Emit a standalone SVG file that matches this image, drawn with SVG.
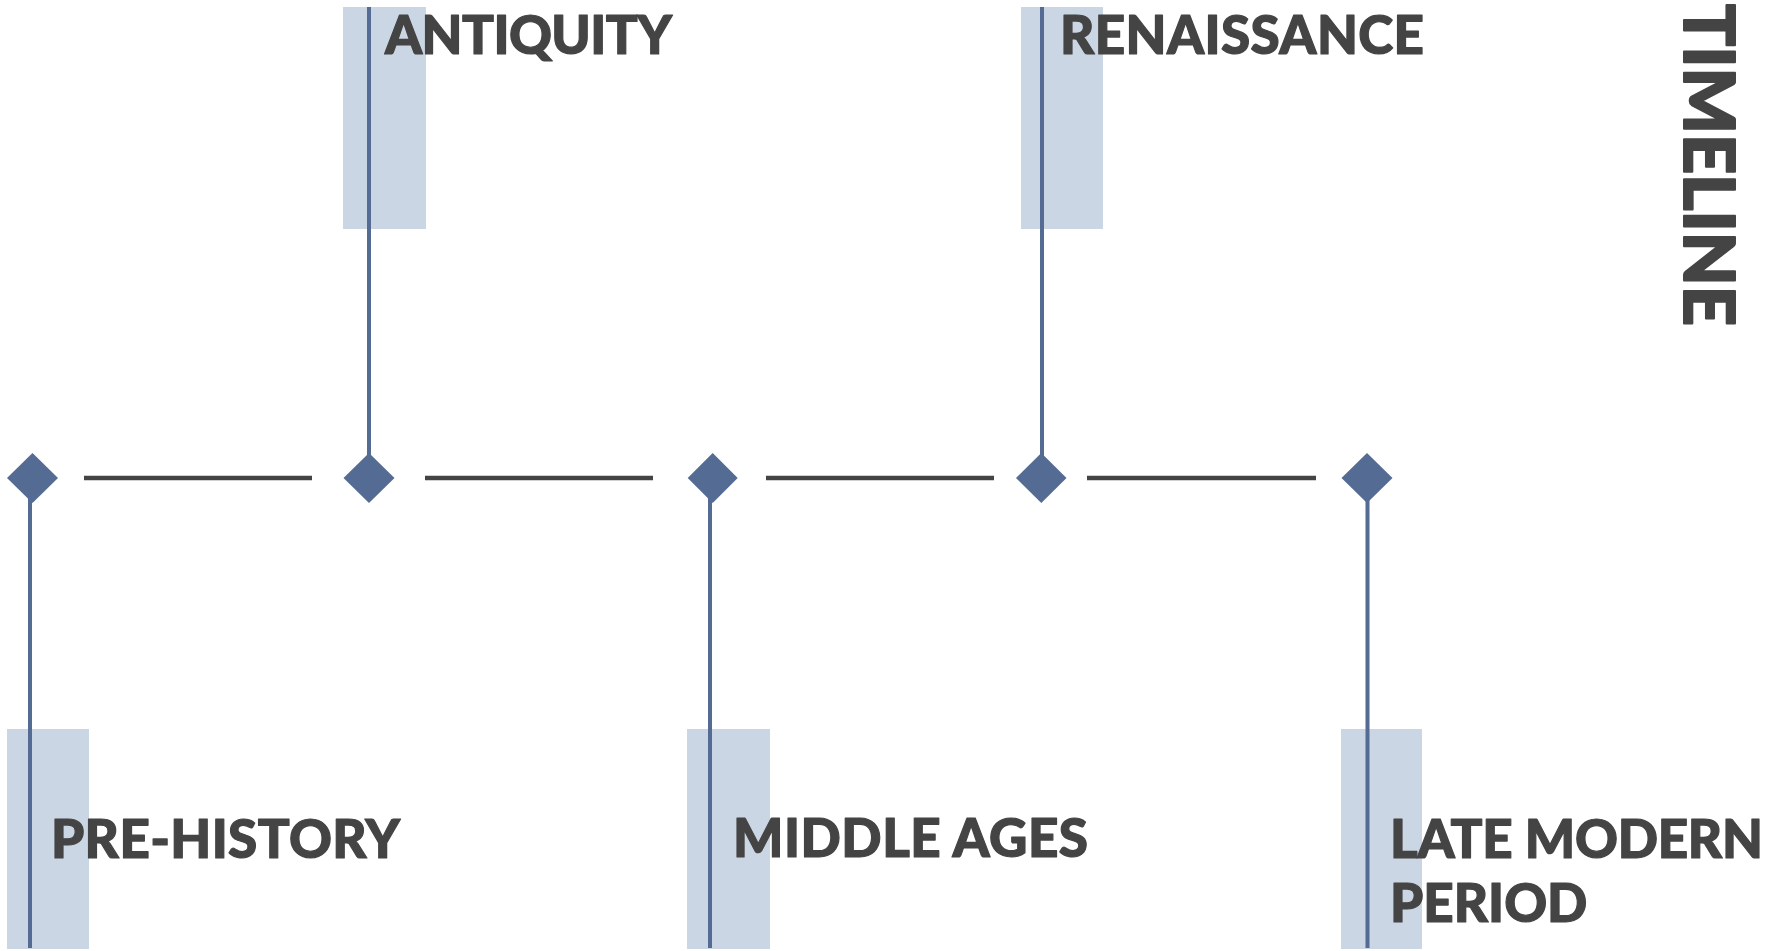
<svg xmlns="http://www.w3.org/2000/svg" width="1791" height="951" viewBox="0 0 1791 951">
<style>
.bg{fill:#cbd6e4}
.stem{stroke:#546b94;stroke-width:4;fill:none}
.link{stroke:#444444;stroke-width:4.5;fill:none}
.dia{fill:#546b94}
.lbl{font-family:Lato,"Liberation Sans",sans-serif;font-weight:900;font-size:53px;fill:#444444;stroke:#444444;stroke-width:1.2;stroke-linejoin:round}
.title{font-family:Lato,"Liberation Sans",sans-serif;font-weight:900;font-size:70px;fill:#444444;stroke:#444444;stroke-width:2;stroke-linejoin:round}
</style>
<rect width="1791" height="951" fill="#ffffff"/>
<g id="connectors">
<line class="link" x1="84" y1="478" x2="312" y2="478"/>
<line class="link" x1="425" y1="478" x2="653" y2="478"/>
<line class="link" x1="766" y1="478" x2="994" y2="478"/>
<line class="link" x1="1087" y1="478" x2="1316" y2="478"/>
</g>
<g id="prehistory">
<rect class="bg" x="7" y="729" width="82" height="220"/>
<line class="stem" x1="30" y1="490" x2="30" y2="948"/>
<polygon class="dia" points="32.5,453 58,478 32.5,503 7,478"/>
<text class="lbl" x="51" y="858" textLength="349">PRE-HISTORY</text>
</g>
<g id="antiquity">
<rect class="bg" x="343" y="7" width="83" height="222"/>
<line class="stem" x1="369" y1="7" x2="369" y2="466"/>
<polygon class="dia" points="369,453 394.5,478 369,503 343.5,478"/>
<text class="lbl" x="385" y="54" textLength="287">ANTIQUITY</text>
</g>
<g id="middleages">
<rect class="bg" x="687" y="729" width="83" height="220"/>
<line class="stem" x1="710" y1="490" x2="710" y2="948"/>
<polygon class="dia" points="712.7,453 737.7,478 712.7,503 687.7,478"/>
<text class="lbl" x="733" y="857" textLength="355">MIDDLE AGES</text>
</g>
<g id="renaissance">
<rect class="bg" x="1021" y="7" width="82" height="222"/>
<line class="stem" x1="1042" y1="7" x2="1042" y2="466"/>
<polygon class="dia" points="1041.3,453 1066.5,478 1041.3,503 1016,478"/>
<text class="lbl" x="1060" y="54" textLength="364">RENAISSANCE</text>
</g>
<g id="latemodern">
<rect class="bg" x="1341" y="729" width="81" height="220"/>
<line class="stem" x1="1367.5" y1="490" x2="1367.5" y2="948"/>
<polygon class="dia" points="1367,453 1392.5,478 1367,503 1341.5,478"/>
<text class="lbl" x="1390" y="858" textLength="373">LATE MODERN</text>
<text class="lbl" x="1390" y="921.5">PERIOD</text>
</g>
<g id="title">
<text class="title" transform="translate(1684,4) rotate(90)" x="0" y="0" textLength="322">TIMELINE</text>
</g>
</svg>
